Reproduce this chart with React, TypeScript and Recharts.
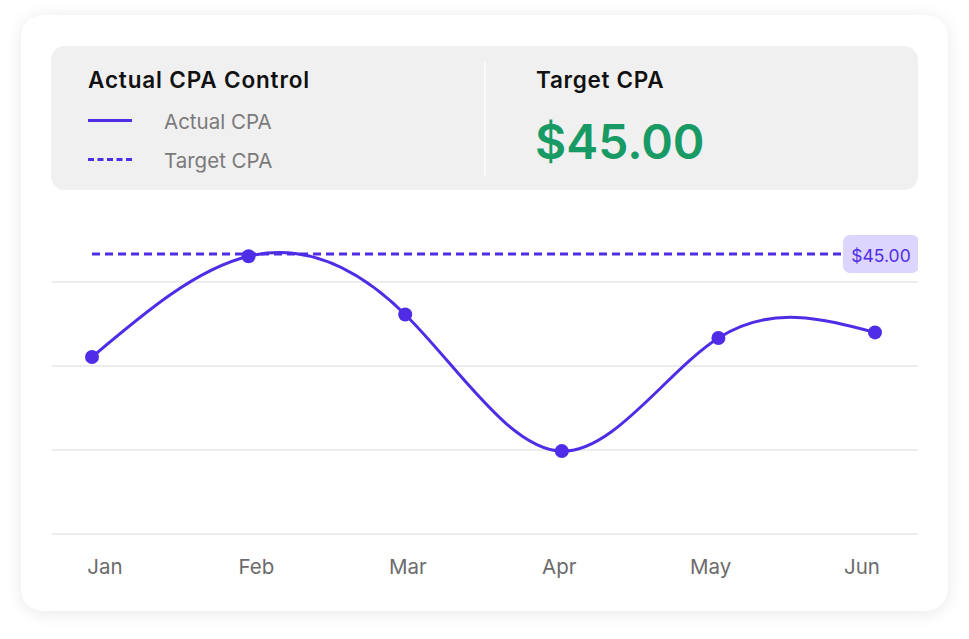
import React from "react";
import {
  LineChart,
  Line,
  XAxis,
  YAxis,
  CartesianGrid,
  ReferenceDot,
} from "recharts";

const months = ["Jan", "Feb", "Mar", "Apr", "May", "Jun"];
const actualCpa = [35.8, 44.8, 39.6, 27.4, 37.5, 38.0];
const targetCpa = 45;
const yTicks = [20, 27.5, 35, 42.5];

const PURPLE = "#4f2de6";
const FONT = "Inter, 'Noto Sans', sans-serif";

const data = months.map((m, i) => ({
  month: m,
  actual: actualCpa[i],
  target: targetCpa,
}));

function TargetBadge(props: any) {
  const { cx, cy } = props;
  if (cx == null || cy == null) return null;
  return (
    <g>
      <rect x={cx - 32} y={cy - 19} width={76} height={38} rx={7} fill="#dcd5fd" />
      <text
        x={cx + 6}
        y={cy + 1}
        textAnchor="middle"
        dominantBaseline="central"
        fontSize={17.5}
        fontFamily={FONT}
        fill={PURPLE}
      >
        ${targetCpa.toFixed(2)}
      </text>
    </g>
  );
}

export default function App() {
  return (
    <div
      style={{
        position: "absolute",
        left: 0,
        top: 0,
        width: 969,
        height: 639,
        background: "#ffffff",
        fontFamily: FONT,
      }}
    >
      <div
        style={{
          position: "absolute",
          left: 21,
          top: 15,
          width: 927,
          height: 596,
          borderRadius: 22,
          background: "#fff",
          boxShadow: "0 2px 18px rgba(0,0,0,0.09)",
        }}
      />
      {/* header panel */}
      <div
        style={{
          position: "absolute",
          left: 51,
          top: 46,
          width: 867,
          height: 144,
          borderRadius: 14,
          background: "#f0f0f0",
        }}
      >
        <div
          style={{
            position: "absolute",
            left: 37,
            top: 20,
            fontSize: 22.5,
            fontWeight: 600,
            letterSpacing: 0.85,
            color: "#111",
          }}
        >
          Actual CPA Control
        </div>
        <div style={{ position: "absolute", left: 37, top: 73, width: 44, height: 3, background: PURPLE }} />
        <div style={{ position: "absolute", left: 113, top: 63, fontSize: 20.5, color: "#7a7a7a" }}>
          Actual CPA
        </div>
        <div
          style={{
            position: "absolute",
            left: 37,
            top: 112,
            width: 44,
            height: 0,
            borderTop: `3px dashed ${PURPLE}`,
          }}
        />
        <div style={{ position: "absolute", left: 113, top: 102, fontSize: 20.5, color: "#7a7a7a" }}>
          Target CPA
        </div>
        <div style={{ position: "absolute", left: 433, top: 16, width: 2, height: 114, background: "#fafafa" }} />
        <div
          style={{
            position: "absolute",
            left: 485,
            top: 20,
            fontSize: 22.5,
            fontWeight: 600,
            letterSpacing: 0.7,
            color: "#111",
          }}
        >
          Target CPA
        </div>
        <div
          style={{
            position: "absolute",
            left: 484,
            top: 66,
            fontSize: 48,
            fontWeight: 600,
            color: "#189a65",
          }}
        >
          ${targetCpa.toFixed(2)}
        </div>
      </div>

      <div style={{ position: "absolute", left: 52, top: 190 }}>
        <LineChart
          width={866}
          height={400}
          data={data}
          margin={{ top: 8, right: 0, bottom: 0, left: 0 }}
        >
          <CartesianGrid
            vertical={false}
            horizontalValues={yTicks}
            stroke="#ececec"
            strokeWidth={2}
          />
          <XAxis
            dataKey="month"
            xAxisId="labels"
            axisLine={false}
            tickLine={false}
            tickMargin={19}
            height={56}
            padding={{ left: 53, right: 56 }}
            tick={{ fill: "#6b6b6b", fontSize: 20.5, fontFamily: FONT }}
          />
          <XAxis dataKey="month" xAxisId="pts" hide padding={{ left: 40, right: 43 }} />
          <YAxis hide domain={[20, 50]} ticks={yTicks} />
          <Line
            xAxisId="pts"
            dataKey="target"
            stroke={PURPLE}
            strokeWidth={3}
            strokeDasharray="8 5"
            dot={false}
            isAnimationActive={false}
          />
          <Line
            xAxisId="pts"
            type="natural"
            dataKey="actual"
            stroke={PURPLE}
            strokeWidth={3}
            dot={{ r: 7, fill: PURPLE, stroke: "none" }}
            isAnimationActive={false}
          />
          <ReferenceDot
            xAxisId="pts"
            x="Jun"
            y={targetCpa}
            r={1}
            shape={(p: any) => <TargetBadge {...p} />}
          />
        </LineChart>
      </div>
    </div>
  );
}
